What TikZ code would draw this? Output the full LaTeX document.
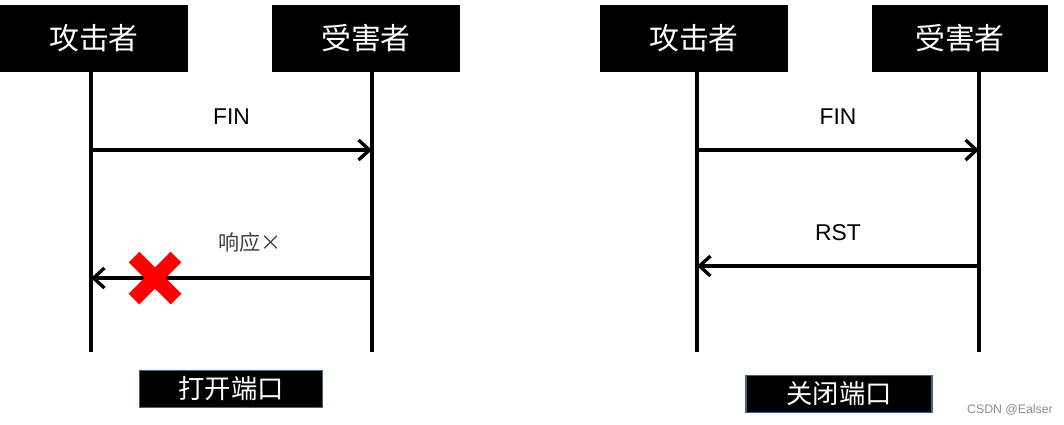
\documentclass[tikz,border=0pt]{standalone}
\usepackage{fontspec}
\setmainfont{Liberation Sans}
\newfontfamily\cjk{Noto Sans CJK SC}
\usetikzlibrary{arrows.meta}
\tikzset{
    actor/.style={fill=black, text=white, minimum height=1.34cm, font=\cjk\fontsize{17}{20}\selectfont, inner sep=0pt},
    lifeline/.style={line width=2pt},
    msg/.style={line width=1.9pt, -{Straight Barb[length=2.2mm, width=4mm]}},
    portbox/.style={fill=black, draw={rgb,255:red,60;green,100;blue,140}, line width=1pt, text=white, minimum height=0.74cm, font=\cjk\fontsize{15}{18}\selectfont, inner sep=0pt}
}
\begin{document}
\begin{tikzpicture}[x=0.02cm, y=-0.02cm]
    \useasboundingbox (0,0) rectangle (1064,424);
    % Actors - left
    \node[actor, minimum width=3.76cm] (a1) at (94,38) {攻击者};
    \node[actor, minimum width=3.76cm] (v1) at (366,38) {受害者};
    % Actors - right
    \node[actor, minimum width=3.76cm] (a2) at (694,38) {攻击者};
    \node[actor, minimum width=3.52cm] (v2) at (960,38) {受害者};

    % Lifelines
    \coordinate (a1b) at (91,352);
    \coordinate (v1b) at (372,352);
    \coordinate (a2b) at (697,352);
    \coordinate (v2b) at (979,352);
    \draw[lifeline] (a1b |- a1.south) -- (a1b);
    \draw[lifeline] (v1b |- v1.south) -- (v1b);
    \draw[lifeline] (a2b |- a2.south) -- (a2b);
    \draw[lifeline] (v2b |- v2.south) -- (v2b);

    % Messages - open port
    \draw[msg] (91,150) -- node[above=0.35cm, font=\fontsize{13}{15}\selectfont] {FIN} (372,150);
    \draw[msg] (372,278) -- (91,278);
    \node[font=\cjk\fontsize{12}{14}\selectfont, text=black!75] (resp) at (250,242) {响应×};
    \draw[red, line width=8.5pt] (134,257) -- (176,299) (176,257) -- (134,299);

    % Messages - closed port
    \draw[msg] (697,150) -- node[above=0.35cm, font=\fontsize{13}{15}\selectfont] {FIN} (979,150);
    \draw[msg] (979,266) -- node[above=0.35cm, font=\fontsize{13}{15}\selectfont] {RST} (697,266);

    % Port state
    \node[portbox, minimum width=3.66cm] (open) at (231,389) {打开端口};
    \node[portbox, minimum width=3.72cm] (closed) at (839,394) {关闭端口};
    \node[text=black!45, font=\fontsize{7}{8}\selectfont] (mark) at (1010,410) {CSDN @Ealser};
\end{tikzpicture}
\end{document}
